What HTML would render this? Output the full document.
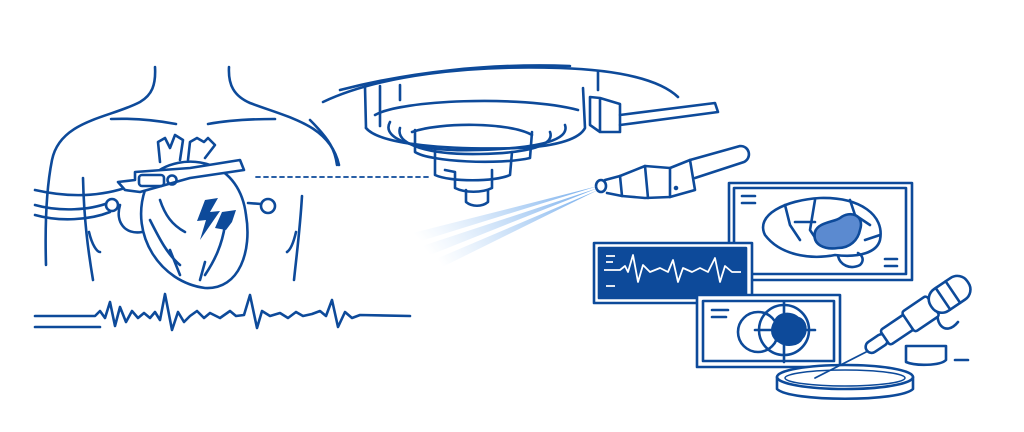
<!DOCTYPE html>
<html><head><meta charset="utf-8"><style>html,body{margin:0;padding:0;background:#fff}svg{display:block}</style></head>
<body>
<svg width="1024" height="432" viewBox="0 0 1024 432" xmlns="http://www.w3.org/2000/svg">
<defs>
<linearGradient id="beam" x1="1" y1="0" x2="0" y2="0.3">
<stop offset="0" stop-color="#6aa6ea" stop-opacity="0.95"/>
<stop offset="1" stop-color="#9cc6f3" stop-opacity="0"/>
</linearGradient>
</defs>
<g fill="none" stroke="#0d4a9a" stroke-width="2.6" stroke-linecap="round" stroke-linejoin="round">
<!-- body -->
<path d="M155 67 C156 85 152 95 140 102 C110 118 60 120 52 160 C46 190 45 230 46 265"/>
<path d="M229 67 C228 85 234 96 250 103 C290 118 330 125 339 165"/>
<path d="M111 119 C135 118 160 121 176 124"/>
<path d="M208 124 C230 120 255 119 275 119"/>
<path d="M83 178 C84 220 88 250 93 280"/>
<path d="M89 232 C92 245 97 252 100 252"/>
<path d="M302 196 C300 230 296 260 294 280"/>
<path d="M296 232 C293 245 290 250 287 252"/>
<!-- cables -->
<path d="M35 190 C70 198 100 196 125 188"/>
<path d="M35 205 C60 212 90 210 108 203"/>
<path d="M35 215 C60 222 90 220 110 212"/>
<!-- heart -->
<path d="M120 205 C115 222 125 235 142 232"/>
<path d="M145 190 C130 235 160 282 205 288 C240 290 252 250 246 215 C243 190 230 172 210 165 C190 158 165 162 150 178 Z"/>
<path d="M160 162 L158 142 L165 138 L170 148 L175 135 L183 140 L180 160"/>
<path d="M188 160 L190 142 L197 138 L204 142 L208 138 L215 145 L205 158"/>
<path d="M118 182 L135 180 L135 172 L190 168 L240 160 L244 170 L190 178 L140 192 L125 190 Z" fill="#fff"/>
<rect x="139" y="175" width="25" height="11" rx="3"/>
<circle cx="172" cy="180" r="4.5"/>
<circle cx="112" cy="205" r="6" fill="#fff"/>
<circle cx="268" cy="206" r="7" fill="#fff"/>
<path d="M248 203 L261 204"/>
<path d="M160 200 C165 215 172 225 185 232 M150 220 C160 240 168 255 180 265 M225 225 C222 245 215 260 205 275 M205 262 L200 280 M170 250 L180 275"/>
</g>
<path d="M205 200 L218 198 L210 212 L220 211 L200 240 L206 220 L197 221 Z" fill="#0d4a9a"/>
<path d="M222 212 L236 210 L232 222 L226 230 L215 228 Z" fill="#0d4a9a"/>
<g fill="none" stroke="#0d4a9a" stroke-width="2.6" stroke-linecap="round" stroke-linejoin="round">
<!-- ecg -->
<path d="M35 316 L95 316 L100 311 L105 318 L110 302 L115 326 L120 307 L126 322 L132 311 L138 318 L144 313 L150 318 L155 312 L160 320 L165 294 L172 330 L178 312 L184 322 L190 316 L197 311 L204 318 L210 313 L220 318 L230 311 L236 316 L244 315 L250 295 L257 328 L262 311 L270 316 L280 313 L288 318 L296 312 L303 316 L312 314 L320 311 L326 316 L332 300 L338 327 L345 312 L352 318 L360 315 L410 316"/>
<path d="M35 327 L100 327"/>
<!-- dashed -->
<path d="M256 177 L430 177" stroke-dasharray="4 4" stroke-width="1.8"/>
<!-- machine -->
<path d="M323 102 C380 75 470 65 560 68 C620 70 660 80 678 97"/>
<path d="M340 90 C410 72 490 63 570 66"/>
<path d="M310 120 C330 140 335 150 337 165"/>
<path d="M365 87 L366 128 M380 86 L380 126 M400 85 L400 100 M598 72 L598 90"/>
<path d="M366 128 C380 145 450 150 520 148 C560 146 580 138 585 128 L583 88"/>
<path d="M375 115 C400 100 520 95 578 110"/>
<path d="M390 122 C380 140 420 152 480 150 C540 148 570 140 565 125"/>
<path d="M400 128 C395 145 430 155 480 154 C530 153 555 145 550 132"/>
<path d="M590 97 L590 125 L600 132 L620 132 L620 104 L600 98 Z M600 98 L600 132"/>
<path d="M620 115 L715 103 L718 112 L620 125"/>
<path d="M415 130 L415 152 C430 162 500 165 530 158 L532 132"/>
<path d="M412 132 C440 122 510 122 532 135"/>
<path d="M435 150 L435 175 C450 182 495 182 510 175 L512 152"/>
<path d="M445 170 L455 172 L455 188 C465 193 482 193 492 188 L492 170"/>
<path d="M466 190 L466 202 C472 207 482 207 488 202 L488 190"/>
<!-- camera -->
<ellipse cx="601" cy="186" rx="5" ry="6"/>
<path d="M605 180 L620 176 L622 196 L607 193"/>
<path d="M620 176 L645 166 L670 168 L670 197 L645 198 L622 196"/>
<path d="M645 166 L648 198"/>
<path d="M670 168 L690 160 L695 190 L670 197"/>
<path d="M690 160 L740 146 C750 146 752 158 744 162 L695 178"/>
<circle cx="676" cy="188" r="1" fill="#0d4a9a"/>
</g>
<!-- beams -->
<polygon points="598,186 385,240 392,250" fill="url(#beam)"/>
<polygon points="598,188 395,255 405,265" fill="url(#beam)"/>
<polygon points="598,190 410,270 420,278" fill="url(#beam)"/>
<g fill="none" stroke="#0d4a9a" stroke-width="2.6" stroke-linecap="round" stroke-linejoin="round">
<!-- big monitor -->
<rect x="729" y="183" width="183" height="97" fill="#fff"/>
<rect x="734" y="188" width="172" height="86"/>
<path d="M742 196 L755 196 M742 203 L755 203 M885 259 L897 259 M885 266 L897 266"/>
<path d="M765 235 C755 215 785 200 820 198 C860 197 885 215 880 240 C877 252 860 258 835 255 C810 260 780 255 765 235 Z"/>
<path d="M838 256 C840 265 850 270 860 265 C865 260 862 255 858 253"/>
<path d="M785 205 L790 225 L800 240 M815 200 L810 230 L820 245 M850 200 L855 215 L870 225 M795 222 L815 222 M865 240 L880 235"/>
<path d="M815 232 C818 222 835 222 840 218 C850 210 865 215 860 230 C858 240 850 248 838 248 C825 250 812 245 815 232 Z" fill="#5b8ad0"/>
<!-- ecg monitor -->
<rect x="594" y="243" width="158" height="60" fill="#fff"/>
<rect x="599" y="248" width="147" height="50" fill="#0d4a9a"/>
<!-- third monitor -->
<rect x="697" y="295" width="143" height="72" fill="#fff"/>
<rect x="703" y="301" width="131" height="60"/>
<path d="M712 310 L728 310 M712 317 L726 317"/>
<circle cx="758" cy="332" r="20"/>
<circle cx="784" cy="330" r="25"/>
<path d="M755 330 L815 330 M784 302 L784 362"/>
<path d="M775 322 C778 312 792 312 798 318 C806 320 808 332 802 338 C798 346 786 346 780 342 C772 338 770 330 775 322 Z" fill="#0d4a9a"/>
<!-- dish -->
<ellipse cx="845" cy="377" rx="68" ry="12" fill="#fff"/>
<path d="M777 377 L777 389 C790 402 900 402 913 389 L913 377"/>
<ellipse cx="845" cy="378" rx="60" ry="8" stroke-width="1.5"/>
<!-- pipette -->
<path d="M815 378 L870 350" stroke-width="1.8"/>
<path d="M940 305 C932 322 945 338 958 322"/>
<g transform="translate(870,348) rotate(-34)" fill="#fff">
<rect x="-4" y="-6" width="24" height="12" rx="6"/>
<rect x="18" y="-9" width="30" height="18" rx="3"/>
<rect x="46" y="-12" width="30" height="24" rx="3"/>
<rect x="74" y="-13" width="44" height="26" rx="12"/>
<path d="M88 -13 L88 13 M100 -13 L100 13"/>
</g>
<path d="M906 346 L946 346 L946 360 C940 366 915 366 906 362 Z"/>
<path d="M955 360 L968 360"/>
</g>
<g fill="none" stroke="#fff" stroke-width="1.8" stroke-linejoin="round">
<path d="M604 270 L620 270 L625 266 L628 272 L633 255 L638 282 L643 265 L650 272 L660 268 L668 272 L673 260 L678 282 L683 268 L692 272 L700 268 L708 272 L715 258 L720 282 L725 266 L732 272 L741 272"/>
<path d="M606 256 L615 256 M606 262 L613 262 M606 286 L615 286"/>
</g>
</svg>
</body></html>
